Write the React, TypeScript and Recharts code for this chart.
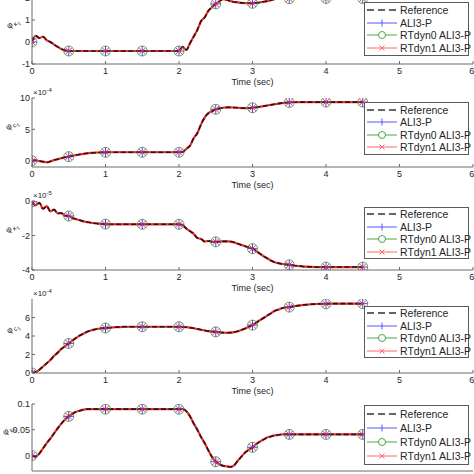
import { LineChart, Line, XAxis, YAxis, Legend } from 'recharts'

// sample times (sec)
const time = [
  0, 0.05, 0.1, 0.15, 0.2, 0.25, 0.3, 0.35, 0.4, 0.45,
  0.5, 0.55, 0.6, 0.65, 0.7, 0.75, 0.8, 0.85, 0.9, 0.95,
  1, 1.05, 1.1, 1.15, 1.2, 1.25, 1.3, 1.35, 1.4, 1.45,
  1.5, 1.55, 1.6, 1.65, 1.7, 1.75, 1.8, 1.85, 1.9, 1.95,
  2, 2.05, 2.1, 2.15, 2.2, 2.25, 2.3, 2.35, 2.4, 2.45,
  2.5, 2.55, 2.6, 2.65, 2.7, 2.75, 2.8, 2.85, 2.9, 2.95,
  3, 3.05, 3.1, 3.15, 3.2, 3.25, 3.3, 3.35, 3.4, 3.45,
  3.5, 3.55, 3.6, 3.65, 3.7, 3.75, 3.8, 3.85, 3.9, 3.95,
  4, 4.05, 4.1, 4.15, 4.2, 4.25, 4.3, 4.35, 4.4, 4.45,
  4.5,
]

// phi_kappa1
const panel1Values = [
  0, 0.28, 0.18, 0.24, 0.08, 0.0, -0.12, -0.22, -0.32, -0.38,
  -0.41, -0.41, -0.41, -0.41, -0.41, -0.41, -0.41, -0.41, -0.41, -0.41,
  -0.41, -0.41, -0.41, -0.41, -0.41, -0.41, -0.41, -0.41, -0.41, -0.41,
  -0.41, -0.41, -0.41, -0.41, -0.41, -0.41, -0.41, -0.41, -0.41, -0.41,
  -0.41, -0.22, -0.36, -0.05, 0.25, 0.55, 0.95, 1.12, 1.42, 1.58,
  1.73, 1.85, 1.95, 1.92, 1.86, 1.82, 1.8, 1.78, 1.77, 1.76,
  1.76, 1.78, 1.8, 1.83, 1.86, 1.9, 1.95, 1.98, 2.0, 2.0,
  1.97, 1.98, 1.98, 1.98, 1.98, 1.98, 1.98, 1.98, 1.98, 1.98,
  1.98, 1.98, 1.98, 1.98, 1.98, 1.98, 1.98, 1.98, 1.98, 1.98,
  1.98,
]

// phi_c1 (x1e-4)
const panel2Values = [
  0, 0.05, -0.05, -0.15, -0.25, -0.1, 0.1, 0.25, 0.4, 0.55,
  0.65, 0.8, 0.9, 1.0, 1.1, 1.18, 1.24, 1.28, 1.31, 1.33,
  1.34, 1.35, 1.35, 1.35, 1.35, 1.35, 1.35, 1.35, 1.35, 1.35,
  1.35, 1.35, 1.35, 1.35, 1.35, 1.35, 1.35, 1.35, 1.35, 1.35,
  1.35, 1.4, 1.9, 2.4, 3.6, 4.4, 5.8, 6.9, 7.6, 7.9,
  8.2, 8.35, 8.45, 8.5, 8.5, 8.48, 8.45, 8.4, 8.38, 8.4,
  8.45, 8.52, 8.6, 8.7, 8.8, 8.9, 9.0, 9.1, 9.18, 9.25,
  9.3, 9.32, 9.33, 9.35, 9.35, 9.35, 9.35, 9.35, 9.35, 9.35,
  9.35, 9.35, 9.35, 9.35, 9.35, 9.35, 9.35, 9.35, 9.35, 9.35,
  9.35,
]

// phi_kappa1 (x1e-5)
const panel3Values = [
  -0.05, -0.25, -0.1, -0.45, -0.3, -0.6, -0.5, -0.72, -0.7, -0.85,
  -0.87, -0.98, -1.05, -1.12, -1.18, -1.22, -1.26, -1.29, -1.31, -1.33,
  -1.34, -1.35, -1.35, -1.35, -1.35, -1.35, -1.35, -1.35, -1.35, -1.35,
  -1.35, -1.35, -1.35, -1.35, -1.35, -1.35, -1.35, -1.35, -1.35, -1.35,
  -1.35, -1.4, -1.6, -1.75, -1.9, -2.15, -2.2, -2.35, -2.32, -2.36,
  -2.37, -2.35, -2.34, -2.34, -2.35, -2.4, -2.48, -2.55, -2.62, -2.7,
  -2.76, -2.9, -3.05, -3.2, -3.32, -3.45, -3.55, -3.6, -3.65, -3.67,
  -3.7, -3.73, -3.76, -3.78, -3.8, -3.81, -3.82, -3.83, -3.83, -3.83,
  -3.83, -3.83, -3.83, -3.83, -3.83, -3.83, -3.83, -3.83, -3.83, -3.83,
  -3.83,
]

// phi_c1 (x1e-4)
const panel4Values = [
  0, 0.1, 0.35, 0.7, 1.05, 1.4, 1.85, 2.2, 2.6, 2.9,
  3.2, 3.5, 3.8, 4.05, 4.25, 4.45, 4.6, 4.7, 4.78, 4.83,
  4.86, 4.9, 4.93, 4.95, 4.97, 5.0, 5.0, 5.0, 5.0, 5.0,
  5.0, 5.0, 5.0, 5.0, 5.0, 5.0, 5.0, 5.0, 5.0, 5.0,
  5.0, 4.98, 4.95, 4.9, 4.84, 4.76, 4.68, 4.6, 4.53, 4.48,
  4.45, 4.4, 4.36, 4.35, 4.36, 4.42, 4.52, 4.65, 4.8, 5.0,
  5.18, 5.45, 5.7, 5.95, 6.2, 6.45, 6.7, 6.85, 7.0, 7.08,
  7.12, 7.2, 7.26, 7.32, 7.36, 7.4, 7.43, 7.45, 7.47, 7.48,
  7.48, 7.5, 7.5, 7.5, 7.5, 7.5, 7.5, 7.5, 7.5, 7.5,
  7.5,
]

// phi_eps1
const panel5Values = [
  0, -0.002, 0.004, 0.014, 0.024, 0.033, 0.043, 0.053, 0.062, 0.07,
  0.076, 0.081, 0.085, 0.087, 0.089, 0.09, 0.09, 0.09, 0.09, 0.09,
  0.09, 0.09, 0.09, 0.09, 0.09, 0.09, 0.09, 0.09, 0.09, 0.09,
  0.09, 0.09, 0.09, 0.09, 0.09, 0.09, 0.09, 0.09, 0.09, 0.09,
  0.09, 0.09, 0.086, 0.076, 0.062, 0.05, 0.036, 0.024, 0.01, -0.003,
  -0.012, -0.017, -0.02, -0.021, -0.022, -0.019, -0.01, -0.002, 0.006, 0.011,
  0.016, 0.022, 0.027, 0.031, 0.035, 0.037, 0.039, 0.04, 0.041, 0.041,
  0.041, 0.041, 0.041, 0.041, 0.041, 0.041, 0.041, 0.041, 0.041, 0.041,
  0.041, 0.041, 0.041, 0.041, 0.041, 0.041, 0.041, 0.041, 0.041, 0.041,
  0.041,
]

const timeTicks = [0, 1, 2, 3, 4, 5, 6]
const seriesNames = ['Reference', 'ALI3-P', 'RTdyn0 ALI3-P', 'RTdyn1 ALI3-P']

const FONT = '"Liberation Sans", Arial, sans-serif'
const TEXT = '#262626'
const AXIS = '#6b6b6b'
const BLUE = '#2f2fff'
const GREEN = '#3c8f3c'
const RED = '#ff2a2a'

// last panel runs off the bottom of the figure, so its x labels are not shown
const panels = [
  { values: panel1Values, domain: [-1, 2], ticks: [-1, 0, 1, 2], sub: 'κ', exp: '', titleX: 14, plotTop: -2, plotH: 66, legendTop: 2, legendH: 54, xLabels: true },
  { values: panel2Values, domain: [-1, 10], ticks: [0, 5, 10], sub: 'c', exp: '-4', titleX: 13, plotTop: 98, plotH: 69, legendTop: 102, legendH: 53, xLabels: true },
  { values: panel3Values, domain: [-4, 0], ticks: [-4, -2, 0], sub: 'κ', exp: '-5', titleX: 13, plotTop: 201, plotH: 69, legendTop: 207, legendH: 52, xLabels: true },
  { values: panel4Values, domain: [0, 8], ticks: [0, 2, 4, 6], sub: 'c', exp: '-4', titleX: 14, plotTop: 299, plotH: 74, legendTop: 306, legendH: 52, xLabels: true },
  { values: panel5Values, domain: [-0.03, 0.1], ticks: [0, 0.05, 0.1], sub: 'ε', exp: '', titleX: 10, plotTop: 404, plotH: 67, legendTop: 405, legendH: 60, xLabels: false },
]

const MARGIN_TOP = 12
const X_AXIS_H = 26

const atMarker = (t: number) => Math.abs(t * 2 - Math.round(t * 2)) < 1e-6

const plusDot = (p: any) =>
  atMarker(p.payload.t) ? (
    <path key={p.index} d={`M${p.cx - 5},${p.cy}h10M${p.cx},${p.cy - 5}v10`} stroke={BLUE} strokeWidth={0.9} fill="none" />
  ) : (
    <g key={p.index} />
  )

const circleDot = (p: any) =>
  atMarker(p.payload.t) ? (
    <circle key={p.index} cx={p.cx} cy={p.cy} r={5} stroke={GREEN} strokeWidth={0.8} fill="none" />
  ) : (
    <g key={p.index} />
  )

const crossDot = (p: any) =>
  atMarker(p.payload.t) ? (
    <path
      key={p.index}
      d={`M${p.cx - 3.5},${p.cy - 3.5}l7,7M${p.cx - 3.5},${p.cy + 3.5}l7,-7`}
      stroke={RED}
      strokeWidth={0.9}
      fill="none"
    />
  ) : (
    <g key={p.index} />
  )

function LegendSample({ name }: { name: string }) {
  const y = 6
  return (
    <svg width={34} height={12} style={{ flex: 'none' }}>
      {name === 'Reference' && <line x1={2} x2={32} y1={y} y2={y} stroke="#333" strokeWidth={1.3} strokeDasharray="7 4" />}
      {name === 'ALI3-P' && (
        <>
          <line x1={2} x2={32} y1={y} y2={y} stroke="#5555ff" strokeWidth={1} />
          <path d={`M17,${y - 3.5}v7`} stroke="#5555ff" strokeWidth={1} />
        </>
      )}
      {name === 'RTdyn0 ALI3-P' && (
        <>
          <line x1={2} x2={32} y1={y} y2={y} stroke="#44aa44" strokeWidth={1} />
          <circle cx={17} cy={y} r={3.5} stroke="#44aa44" strokeWidth={1} fill="#fff" />
        </>
      )}
      {name === 'RTdyn1 ALI3-P' && (
        <>
          <line x1={2} x2={32} y1={y} y2={y} stroke="#ff6666" strokeWidth={1} />
          <path d={`M14.5,${y - 2.5}l5,5M14.5,${y + 2.5}l5,-5`} stroke="#ff6666" strokeWidth={1} />
        </>
      )}
    </svg>
  )
}

function LegendBox({ height }: { height: number }) {
  return (
    <div
      style={{
        border: '1px solid #5a5a5a',
        background: '#fff',
        height,
        boxSizing: 'border-box',
        display: 'flex',
        flexDirection: 'column',
        justifyContent: 'space-evenly',
        fontFamily: FONT,
      }}
    >
      {seriesNames.map((name) => (
        <div key={name} style={{ display: 'flex', alignItems: 'center', height: 12 }}>
          <LegendSample name={name} />
          <span style={{ fontSize: 10.5, color: TEXT, marginLeft: 1, whiteSpace: 'nowrap' }}>{name}</span>
        </div>
      ))}
    </div>
  )
}

const yTitle = (sub: string, exp: string, titleX: number) => (props: any) => {
  const vb = props.viewBox
  const cx = vb.x + titleX
  const cy = vb.y + vb.height / 2 - 6
  return (
    <g>
      <text transform={`translate(${cx},${cy}) rotate(-40)`} textAnchor="middle" fontSize={8.5} fill={TEXT} fontFamily={FONT}>
        φ
        <tspan fontSize={6.5} dy={2} dx={1}>
          {sub}
        </tspan>
        <tspan fontSize={5} dy={2}>
          1
        </tspan>
      </text>
      {exp && (
        <text x={vb.x + vb.width + 1} y={vb.y - 3} fontSize={8} fill={TEXT} fontFamily={FONT}>
          ×10
          <tspan fontSize={6} dy={-3}>
            {exp}
          </tspan>
        </text>
      )}
    </g>
  )
}

const timeLabel = (props: any) => {
  const vb = props.viewBox
  return (
    <text x={vb.x + vb.width / 2} y={vb.y + 21} textAnchor="middle" fontSize={9} fill={TEXT} fontFamily={FONT}>
      Time (sec)
    </text>
  )
}

export default function App() {
  return (
    <div
      style={{
        position: 'absolute',
        left: 0,
        top: 0,
        width: 474,
        height: 474,
        overflow: 'hidden',
        background: '#fff',
        fontFamily: FONT,
      }}
    >
      {panels.map((panel, i) => {
        const rows = time.map((t, k) => ({
          t,
          ref: panel.values[k],
          ali: panel.values[k],
          rt0: panel.values[k],
          rt1: panel.values[k],
        }))
        const top = panel.plotTop - MARGIN_TOP
        return (
          <div key={i} style={{ position: 'absolute', left: 0, top }}>
            <LineChart
              width={474}
              height={panel.plotH + MARGIN_TOP + X_AXIS_H}
              data={rows}
              margin={{ top: MARGIN_TOP, right: 1, bottom: 0, left: 0 }}
            >
              <XAxis
                dataKey="t"
                type="number"
                domain={[0, 6]}
                ticks={timeTicks}
                allowDataOverflow
                height={X_AXIS_H}
                tickSize={-3}
                tickMargin={7}
                tick={panel.xLabels ? { fontSize: 9, fill: TEXT, fontFamily: FONT } : false}
                tickLine={{ stroke: AXIS }}
                axisLine={{ stroke: AXIS }}
                label={panel.xLabels ? timeLabel : undefined}
              />
              <YAxis
                type="number"
                domain={panel.domain}
                ticks={panel.ticks}
                allowDataOverflow
                width={32}
                tickSize={-3}
                tickMargin={5}
                tick={{ fontSize: 9, fill: TEXT, fontFamily: FONT }}
                tickLine={{ stroke: AXIS }}
                axisLine={{ stroke: AXIS }}
                label={yTitle(panel.sub, panel.exp, panel.titleX)}
              />
              <Line dataKey="ali" name="ALI3-P" type="monotone" stroke={BLUE} strokeWidth={1} dot={plusDot} activeDot={false} isAnimationActive={false} />
              <Line dataKey="rt0" name="RTdyn0 ALI3-P" type="monotone" stroke={GREEN} strokeWidth={1} dot={circleDot} activeDot={false} isAnimationActive={false} />
              <Line dataKey="rt1" name="RTdyn1 ALI3-P" type="monotone" stroke={RED} strokeWidth={2.2} dot={crossDot} activeDot={false} isAnimationActive={false} />
              <Line
                dataKey="ref"
                name="Reference"
                type="monotone"
                stroke="#1a1a1a"
                strokeWidth={1.6}
                strokeDasharray="5 2.5"
                dot={false}
                activeDot={false}
                isAnimationActive={false}
              />
              <Legend
                layout="horizontal"
                verticalAlign="middle"
                align="center"
                wrapperStyle={{ top: panel.legendTop - top, left: 364, width: 105 }}
                content={() => <LegendBox height={panel.legendH} />}
              />
            </LineChart>
          </div>
        )
      })}
    </div>
  )
}
